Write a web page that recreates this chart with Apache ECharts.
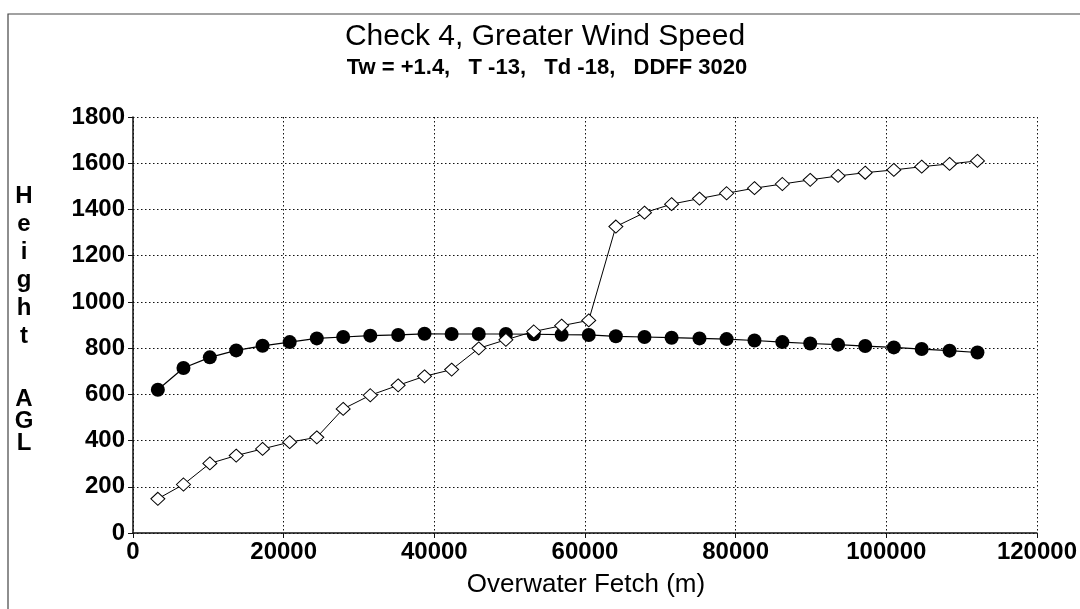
<!DOCTYPE html>
<html>
<head>
<meta charset="utf-8">
<script src="https://cdn.jsdelivr.net/npm/echarts@6/dist/echarts.min.js"></script>
<style>
html,body{margin:0;padding:0;background:#fff;}
#chart{width:1080px;height:609px;}
</style>
</head>
<body>
<div id="chart"></div>
<script>
// Overwater fetch (m) for each plotted point
const fetchMeters = [3300, 6700, 10200, 13700, 17200, 20800, 24400, 27900, 31500, 35200, 38700,
  42300, 45900, 49500, 53200, 56900, 60500, 64100, 67900, 71500, 75200, 78800,
  82500, 86200, 89900, 93600, 97200, 101000, 104700, 108400, 112100];
// Filled-circle series (Height AGL)
const circleHeights = [620, 714, 760, 790, 810, 826, 842, 848, 854, 857, 862,
  861, 861, 861, 860, 858, 857, 851, 848, 845, 842, 839,
  833, 826, 820, 815, 809, 803, 796, 789, 781];
// Open-diamond series (Height AGL)
const diamondHeights = [148, 210, 301, 335, 364, 393, 414, 537, 596, 639, 678,
  707, 799, 836, 872, 897, 920, 1326, 1386, 1423, 1447, 1470,
  1492, 1510, 1528, 1545, 1559, 1571, 1585, 1597, 1610];

const titleText = 'Check 4, Greater Wind Speed';
const subtitleText = 'Tw = +1.4,   T -13,   Td -18,   DDFF 3020';
const xAxisName = 'Overwater Fetch (m)';
const yAxisNameTop = ['H', 'e', 'i', 'g', 'h', 't'];
const yAxisNameBottom = ['A', 'G', 'L'];

const pairs = (ys) => fetchMeters.map((x, i) => [x, ys[i]]);
const FONT = '"Liberation Sans", Arial, sans-serif';
const dotted = { color: '#111', width: 1, type: [1.5, 2.5] };
const plain = (v) => String(v);

const chart = echarts.init(document.getElementById('chart'), null, { renderer: 'canvas' });
chart.setOption({
  animation: false,
  backgroundColor: '#fff',
  grid: { left: 133, right: 40, top: 117, bottom: 76, containLabel: false },
  xAxis: {
    type: 'value', min: 0, max: 120000, interval: 20000,
    axisLine: { show: true, onZero: false, lineStyle: { color: '#111', width: 1.5 } },
    axisTick: { show: true, length: 5, lineStyle: { color: '#111' } },
    axisLabel: { color: '#000', fontFamily: FONT, fontWeight: 'bold', fontSize: 24, margin: 7, formatter: plain },
    splitLine: { show: true, lineStyle: dotted }
  },
  yAxis: {
    type: 'value', min: 0, max: 1800, interval: 200,
    axisLine: { show: true, onZero: false, lineStyle: { color: '#111', width: 1.5 } },
    axisTick: { show: true, length: 5, lineStyle: { color: '#111' } },
    axisLabel: { color: '#000', fontFamily: FONT, fontWeight: 'bold', fontSize: 24, margin: 8, formatter: plain },
    splitLine: { show: true, lineStyle: dotted }
  },
  series: [
    {
      type: 'line', data: pairs(circleHeights), symbol: 'circle', symbolSize: 14,
      itemStyle: { color: '#000' }, lineStyle: { color: '#000', width: 1.2 }, z: 2
    },
    {
      type: 'line', data: pairs(diamondHeights), symbol: 'diamond', symbolSize: [14, 13],
      itemStyle: { color: '#fff', borderColor: '#000', borderWidth: 1 },
      lineStyle: { color: '#000', width: 1 }, z: 3
    }
  ],
  graphic: [
    { type: 'rect', shape: { x: 8, y: 14, width: 1100, height: 640 },
      style: { fill: null, stroke: '#444', lineWidth: 1.2 }, silent: true },
    { type: 'text', x: 545, y: 37,
      style: { text: titleText, font: 'normal 30px ' + FONT, fill: '#000', textAlign: 'center', textVerticalAlign: 'middle' } },
    { type: 'text', x: 547, y: 68,
      style: { text: subtitleText, font: 'bold 22px ' + FONT, fill: '#000', textAlign: 'center', textVerticalAlign: 'middle' } },
    { type: 'text', x: 586, y: 585,
      style: { text: xAxisName, font: 'normal 26px ' + FONT, fill: '#000', textAlign: 'center', textVerticalAlign: 'middle' } },
    { type: 'text', x: 24, y: 182,
      style: { text: yAxisNameTop.join('\n'), font: 'bold 24px ' + FONT, lineHeight: 28, fill: '#000', textAlign: 'center', textVerticalAlign: 'top' } },
    { type: 'text', x: 24, y: 388,
      style: { text: yAxisNameBottom.join('\n'), font: 'bold 24px ' + FONT, lineHeight: 22, fill: '#000', textAlign: 'center', textVerticalAlign: 'top' } }
  ]
});
</script>
</body>
</html>
